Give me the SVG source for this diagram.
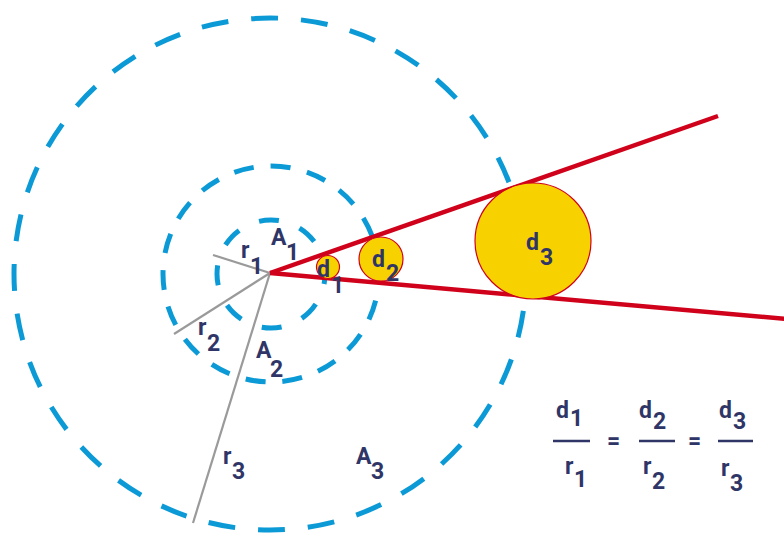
<svg xmlns="http://www.w3.org/2000/svg" width="784" height="536" viewBox="0 0 784 536">
<style>
.ring{fill:none;stroke:#0b9ad6;stroke-width:5}
.gray{stroke:#9a9a9a;stroke-width:2.2;fill:none}
.red{stroke:#d0021b;stroke-width:4.5;fill:none}
.ball{fill:#f8d100;stroke:#d0021b;stroke-width:1.2}
text{font-family:"Roboto","Liberation Sans",sans-serif;font-weight:bold;fill:#2f3566;font-size:23px}
.frac{stroke:#2f3566;stroke-width:2.5}
</style>
<rect width="784" height="536" fill="#fff"/>
<g id="rings">
<circle id="A3ring" class="ring" cx="270" cy="274" r="256" stroke-dasharray="27 23" stroke-dashoffset="13"/>
<circle id="A2ring" class="ring" cx="271" cy="274" r="108" stroke-dasharray="20 17" stroke-dashoffset="10"/>
<circle id="A1ring" class="ring" cx="271" cy="274" r="54" stroke-dasharray="20 22" stroke-dashoffset="10"/>
</g>
<g id="connectors">
<line class="gray" x1="270" y1="273" x2="213" y2="255"/>
<line class="gray" x1="270" y1="273" x2="174" y2="334"/>
<line class="gray" x1="270" y1="273" x2="193" y2="523"/>
<line class="red" x1="270" y1="273" x2="718" y2="116"/>
<line class="red" x1="270" y1="273" x2="786" y2="319"/>
</g>
<g id="d1"><circle class="ball" cx="328" cy="267" r="11.5"/></g>
<g id="d2"><circle class="ball" cx="381" cy="259" r="22"/></g>
<g id="d3"><circle class="ball" cx="533" cy="241" r="58"/></g>
<g id="labels">
<text x="241" y="258">r</text><text x="250" y="274">1</text>
<text x="271" y="245">A</text><text x="286" y="260">1</text>
<text x="317" y="277">d</text><text x="331" y="293">1</text>
<text x="372" y="267">d</text><text x="386" y="281">2</text>
<text x="526" y="250">d</text><text x="540" y="265">3</text>
<text x="198" y="335">r</text><text x="207" y="351">2</text>
<text x="256" y="358">A</text><text x="270" y="377">2</text>
<text x="223" y="464">r</text><text x="232" y="479">3</text>
<text x="356" y="464">A</text><text x="371" y="479">3</text>
</g>
<g id="equation">
<text x="556" y="418">d</text><text x="570" y="426">1</text>
<line class="frac" x1="553" y1="441" x2="590" y2="441"/>
<text x="565" y="474">r</text><text x="574" y="487">1</text>
<text x="607" y="449">=</text>
<text x="639" y="418">d</text><text x="653" y="429">2</text>
<line class="frac" x1="639" y1="441" x2="675" y2="441"/>
<text x="643" y="474">r</text><text x="652" y="489">2</text>
<text x="688" y="449">=</text>
<text x="719" y="418">d</text><text x="733" y="429">3</text>
<line class="frac" x1="718" y1="441" x2="753" y2="441"/>
<text x="721" y="476">r</text><text x="730" y="491">3</text>
</g>
</svg>
